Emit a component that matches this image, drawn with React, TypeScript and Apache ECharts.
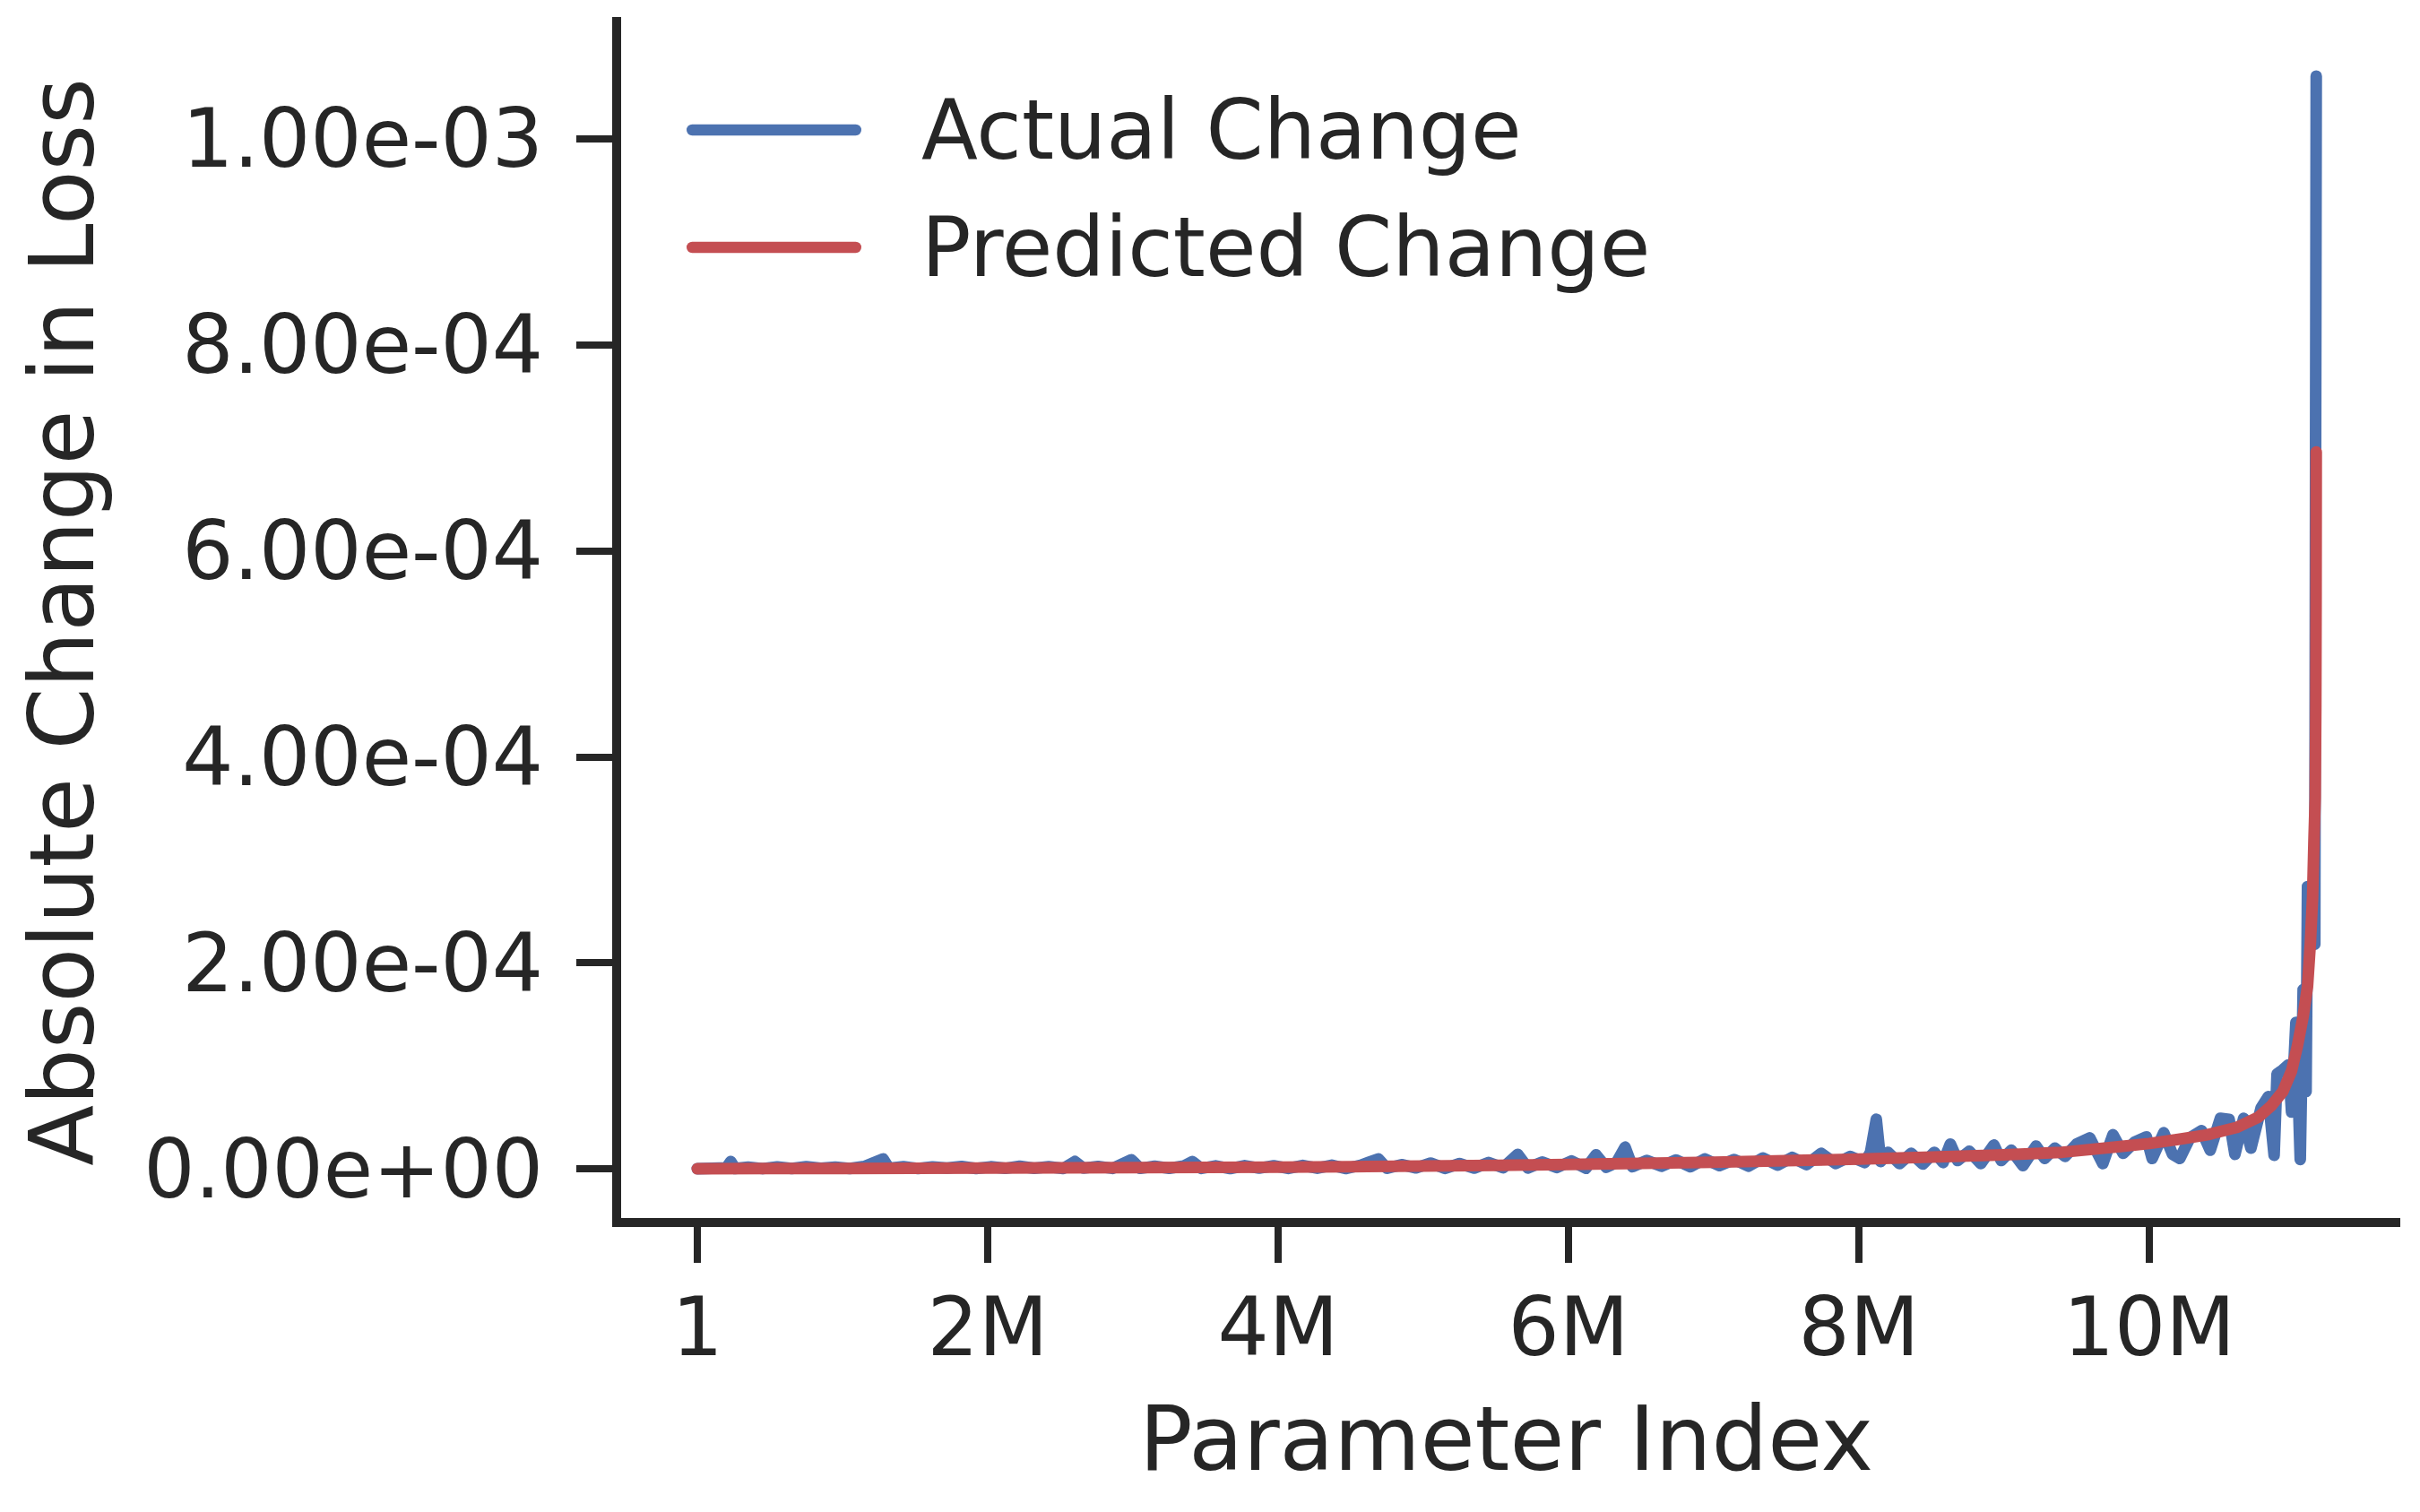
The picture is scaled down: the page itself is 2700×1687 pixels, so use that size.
import React, { useEffect, useRef } from "react";
import * as echarts from "echarts";

// Parameter index in millions
const actualX: number[] = [
  0.0, 0.1, 0.2, 0.23, 0.26, 0.35, 0.45, 0.55, 0.65, 0.75, 0.85, 0.95, 1.05, 1.15, 1.28, 1.32,
  1.42, 1.52, 1.62, 1.72, 1.82, 1.92, 2.02, 2.12, 2.22, 2.32, 2.42, 2.52, 2.6, 2.66, 2.76, 2.86,
  2.99, 3.05, 3.15, 3.25, 3.35, 3.41, 3.47, 3.57, 3.67, 3.77, 3.87, 3.97, 4.07, 4.17, 4.27, 4.37,
  4.47, 4.57, 4.69, 4.75, 4.85, 4.95, 5.05, 5.15, 5.25, 5.35, 5.45, 5.55, 5.65, 5.72, 5.82, 5.92,
  6.02, 6.12, 6.19, 6.26, 6.33, 6.39, 6.44, 6.54, 6.64, 6.74, 6.84, 6.94, 7.04, 7.14, 7.24, 7.34,
  7.44, 7.54, 7.64, 7.74, 7.84, 7.94, 8.04, 8.08, 8.12, 8.15, 8.2, 8.28, 8.36, 8.44, 8.52, 8.58,
  8.63, 8.68, 8.76, 8.84, 8.93, 8.98, 9.05, 9.13, 9.22, 9.28, 9.35, 9.42, 9.5, 9.59, 9.68, 9.75,
  9.82, 9.9, 9.98, 10.02, 10.1, 10.16, 10.21, 10.28, 10.36, 10.42, 10.49, 10.55, 10.59, 10.65,
  10.7, 10.77, 10.82, 10.86, 10.88, 10.92, 10.96, 10.98, 11.01, 11.04, 11.06, 11.08, 11.09, 11.12,
  11.14, 11.15,
];
// Absolute change in loss, in units of 1e-6
const actualY: number[] = [
  0.0, 0.5, 1.0, 7.0, 0.2, 1.5, 0.1, 1.8, 0.3, 2.0, 0.4, 1.6, 0.2, 2.2, 9.5, 0.5,
  2.0, 0.3, 1.8, 0.6, 2.2, 0.2, 1.9, 0.4, 2.4, 0.5, 2.0, 0.2, 7.0, 0.6, 2.3, 0.3,
  8.7, 0.4, 2.4, 0.5, 2.6, 7.0, 0.3, 2.8, 0.2, 3.0, 0.6, 2.9, 0.3, 3.2, 0.5, 3.4,
  0.2, 3.5, 9.6, 0.4, 4.0, 0.8, 5.5, 0.3, 5.0, 0.6, 6.0, 1.0, 14.0, 0.8, 6.5, 1.2,
  7.5, 0.5, 13.5, 1.5, 6.0, 21.0, 2.0, 8.0, 2.5, 8.5, 2.0, 9.5, 3.0, 9.0, 2.5, 10.5,
  3.5, 11.0, 4.0, 15.0, 5.0, 12.0, 6.0, 16.0, 48.0, 7.0, 16.0, 5.0, 15.0, 4.5, 16.0, 6.0,
  24.0, 8.0, 17.0, 5.0, 23.0, 8.0, 18.0, 3.0, 22.0, 10.0, 20.0, 12.0, 24.0, 30.0, 5.0, 33.0,
  15.0, 26.0, 31.0, 10.0, 35.0, 14.0, 10.0, 30.0, 37.0, 18.0, 49.0, 48.0, 14.0, 49.0,
  20.0, 59.0, 70.0, 13.0, 92.0, 96.0, 101.0, 55.0, 142.0, 9.0, 174.0, 75.0, 274.0, 240.0,
  218.0, 1061.0,
];

const predictedX: number[] = [
  0.0, 0.5, 1.0, 1.5, 2.0, 2.5, 3.0, 3.5, 4.0, 4.5, 5.0, 5.5, 6.0, 6.5, 7.0, 7.5, 8.0, 8.5,
  9.0, 9.4, 9.8, 10.0, 10.2, 10.4, 10.6, 10.75, 10.84, 10.92, 10.98, 11.02, 11.06, 11.09, 11.11,
  11.125, 11.135, 11.143, 11.147, 11.149, 11.15,
];
const predictedY: number[] = [
  0.0, 0.15, 0.3, 0.45, 0.6, 0.8, 1.0, 1.25, 1.6, 2.0, 2.6, 3.3, 4.1, 5.2, 6.3, 7.8, 9.4, 11.3,
  13.5, 16.0, 21.5, 24.5, 28.5, 33.0, 40.0, 50.0, 61.0, 75.0, 95.0, 119.0, 148.0, 177.0, 220.0,
  264.0, 322.0, 360.0, 450.0, 560.0, 696.0,
];

const xTickValues: number[] = [0, 2e6, 4e6, 6e6, 8e6, 10e6];
const yTickValues: number[] = [0, 0.0002, 0.0004, 0.0006, 0.0008, 0.001];

const seriesNames = ["Actual Change", "Predicted Change"];
const colors = ["#4C72B0", "#C44E52"];

const FONT = "DejaVu Sans";
const INK = "#262626";
const LW = 13;

// pill-shaped legend handle (a thick line with round caps)
const LEGEND_ICON =
  "path://M6.25,0 L188.75,0 A6.25,6.25 0 0 1 188.75,12.5 L6.25,12.5 A6.25,6.25 0 0 1 6.25,0 Z";

function fmtY(v: number): string {
  return v.toExponential(2).replace(/e([+-])(\d)$/, "e$10$2");
}
function fmtX(v: number): string {
  return v === 0 ? "1" : `${Math.round(v / 1e6)}M`;
}

export default function App() {
  const ref = useRef<HTMLDivElement>(null);
  useEffect(() => {
    document.body.style.margin = "0";
    if (!ref.current) return;
    const chart = echarts.init(ref.current, null, { renderer: "svg" });
    const actual = actualX.map((x, i) => [x * 1e6, actualY[i] * 1e-6]);
    const predicted = predictedX.map((x, i) => [x * 1e6, predictedY[i] * 1e-6]);
    const axisLine = { show: true, onZero: false, lineStyle: { color: INK, width: 10, cap: "square" } };
    chart.setOption({
      animation: false,
      backgroundColor: "#ffffff",
      textStyle: { fontFamily: FONT },
      grid: {
        left: 688,
        right: 27,
        top: 24,
        bottom: 323,
        containLabel: false,
        outerBoundsMode: "none",
      },
      legend: {
        orient: "vertical",
        left: 766,
        top: 95,
        padding: 0,
        icon: LEGEND_ICON,
        itemWidth: 195,
        itemHeight: 12.5,
        itemGap: 31,
        textStyle: {
          fontFamily: FONT,
          fontSize: 92,
          color: INK,
          lineHeight: 100,
          padding: [0, 0, 0, 62],
        },
        data: seriesNames,
      },
      xAxis: {
        type: "value",
        min: -555600,
        max: 11698000,
        name: "Parameter Index",
        nameLocation: "middle",
        nameGap: 191,
        nameTextStyle: { fontFamily: FONT, fontSize: 99, color: INK, lineHeight: 100 },
        axisLine,
        splitLine: { show: false },
        axisTick: {
          show: true,
          customValues: xTickValues,
          length: 45,
          lineStyle: { color: INK, width: 8 },
        },
        axisLabel: {
          customValues: xTickValues,
          formatter: fmtX,
          fontFamily: FONT,
          fontSize: 90,
          color: INK,
          margin: 71,
        },
      },
      yAxis: {
        type: "value",
        min: -5.22e-5,
        max: 1.114e-3,
        name: "Absolute Change in Loss",
        nameLocation: "middle",
        nameRotate: 90,
        nameGap: 569,
        nameTextStyle: { fontFamily: FONT, fontSize: 99, color: INK, lineHeight: 100 },
        axisLine,
        splitLine: { show: false },
        axisTick: {
          show: true,
          customValues: yTickValues,
          length: 45,
          lineStyle: { color: INK, width: 8 },
        },
        axisLabel: {
          customValues: yTickValues,
          formatter: fmtY,
          fontFamily: FONT,
          fontSize: 90,
          color: INK,
          margin: 82,
        },
      },
      series: [
        {
          name: seriesNames[0],
          type: "line",
          data: actual,
          showSymbol: false,
          symbol: "none",
          color: colors[0],
          itemStyle: { color: colors[0] },
          lineStyle: { color: colors[0], width: LW, cap: "round", join: "round" },
          z: 2,
        },
        {
          name: seriesNames[1],
          type: "line",
          data: predicted,
          showSymbol: false,
          symbol: "none",
          color: colors[1],
          itemStyle: { color: colors[1] },
          lineStyle: { color: colors[1], width: LW, cap: "round", join: "round" },
          z: 3,
        },
      ],
    });
    return () => chart.dispose();
  }, []);
  return <div ref={ref} style={{ width: 2700, height: 1687 }} />;
}
